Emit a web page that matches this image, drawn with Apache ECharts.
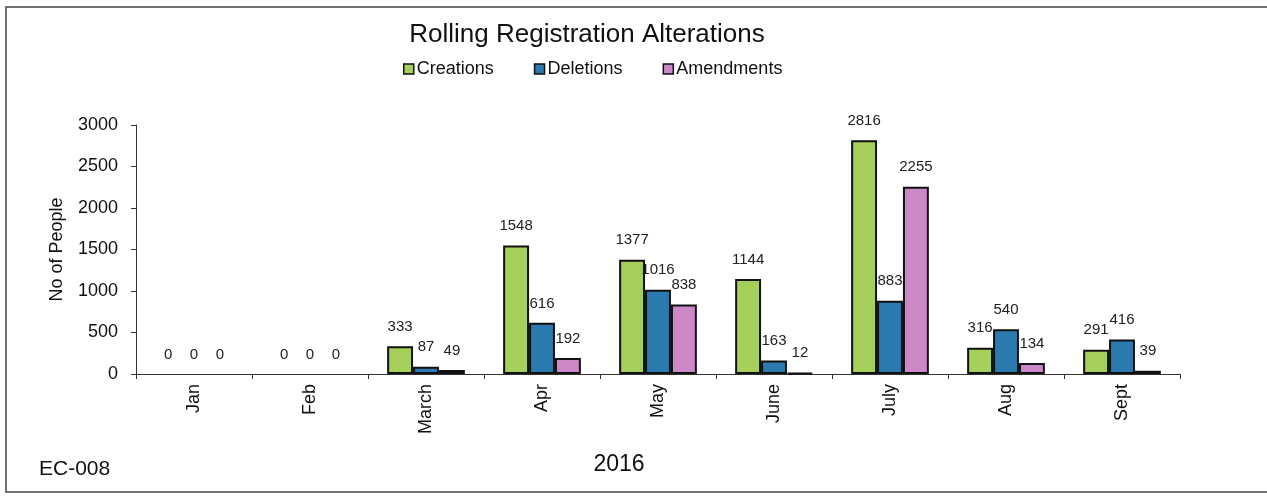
<!DOCTYPE html>
<html>
<head>
<meta charset="utf-8">
<script src="https://cdn.jsdelivr.net/npm/echarts@6/dist/echarts.min.js"></script>
<style>
html, body { margin: 0; padding: 0; background: #fff; }
#main { width: 1267px; height: 499px; }
</style>
</head>
<body>
<div id="main"></div>
<script>
var months = ['Jan', 'Feb', 'March', 'Apr', 'May', 'June', 'July', 'Aug', 'Sept'];
var creations = [0, 0, 333, 1548, 1377, 1144, 2816, 316, 291];
var deletions = [0, 0, 87, 616, 1016, 163, 883, 540, 416];
var amendments = [0, 0, 49, 192, 838, 12, 2255, 134, 39];
var yTicks = [0, 500, 1000, 1500, 2000, 2500, 3000];

var font = 'Liberation Sans, Arial, sans-serif';

function barSeries(name, values, color) {
	// zero bars draw no outline in the original
	var data = values.map(function (v) {
		return v === 0 ? { value: v, itemStyle: { borderWidth: 0 } } : v;
	});
	return {
		name: name,
		type: 'bar',
		data: data,
		barGap: 0,
		barCategoryGap: '33%',
		itemStyle: {
			color: color,
			borderColor: '#111',
			borderWidth: 2
		},
		label: {
			show: true,
			position: 'top',
			distance: 12,
			color: '#222',
			fontFamily: font,
			fontSize: 15
		}
	};
}

var myChart = echarts.init(document.getElementById('main'));

var option = {
	backgroundColor: '#fff',
	animation: false,
	title: {
		text: 'Rolling Registration Alterations',
		left: 582,
		top: 17,
		textAlign: 'center',
		textStyle: {
			fontFamily: font,
			fontSize: 26,
			fontWeight: 'normal',
			color: '#111'
		}
	},
	legend: {
		top: 55,
		left: 398,
		itemWidth: 10,
		itemHeight: 10,
		itemGap: 40,
		icon: 'rect',
		itemStyle: { borderColor: '#111', borderWidth: 1.5 },
		textStyle: {
			fontFamily: font,
			fontSize: 18,
			color: '#111',
			padding: [0, 0, 0, -2]
		},
		data: ['Creations', 'Deletions', 'Amendments']
	},
	grid: {
		left: 136,
		right: 87,
		top: 125,
		bottom: 125
	},
	xAxis: {
		type: 'category',
		data: months,
		axisLine: { lineStyle: { color: '#333', width: 1 } },
		axisTick: { show: true, length: 5, lineStyle: { color: '#333' } },
		axisLabel: {
			rotate: 90,
			margin: 10,
			fontFamily: font,
			fontSize: 18,
			color: '#111'
		}
	},
	yAxis: {
		type: 'value',
		min: yTicks[0],
		max: yTicks[yTicks.length - 1],
		interval: 500,
		splitLine: { show: false },
		axisLine: { show: true, lineStyle: { color: '#333', width: 1 } },
		axisTick: { show: true, inside: false, length: 5, lineStyle: { color: '#333' } },
		axisLabel: {
			margin: 18,
			fontFamily: font,
			fontSize: 18,
			color: '#111',
			formatter: function (v) { return String(v); }
		},
		name: 'No of People',
		nameLocation: 'middle',
		nameGap: 70,
		nameTextStyle: { fontFamily: font, fontSize: 18, color: '#111' }
	},
	graphic: [
		{
			type: 'polyline',
			shape: { points: [[1270, 7], [6, 7], [6, 492], [1270, 492]] },
			style: { stroke: '#444', lineWidth: 1.5, fill: null }
		},
		{
			type: 'text',
			x: 39,
			y: 469,
			style: { text: 'EC-008', font: '21px ' + font, fill: '#111', textVerticalAlign: 'middle' }
		},
		{
			type: 'text',
			x: 619,
			y: 465,
			style: { text: '2016', font: '23px ' + font, fill: '#111', textAlign: 'center', textVerticalAlign: 'middle' }
		}
	],
	series: [
		barSeries('Creations', creations, '#a6cf5a'),
		barSeries('Deletions', deletions, '#2a7ab0'),
		barSeries('Amendments', amendments, '#cc88c6')
	]
};
myChart.setOption(option);
</script>
</body>
</html>
